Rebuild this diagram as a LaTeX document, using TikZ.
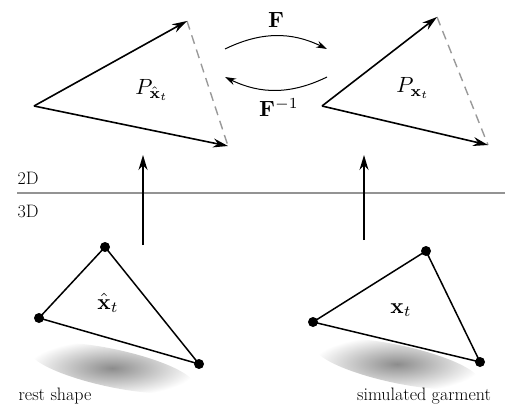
\documentclass[tikz,border=0pt]{standalone}
\usetikzlibrary{arrows.meta}
\newcommand{\mylbl}[1]{\scalebox{2.2}{$#1$}}
\begin{document}
\begin{tikzpicture}[x=1pt,y=-1pt,
  edge/.style={line width=1.6pt,-{Stealth[length=15pt,width=9pt]}},
  dashededge/.style={line width=1.4pt,gray!80,dash pattern=on 9pt off 6pt},
  tri/.style={line width=1.5pt},
  dot/.style={circle,fill=black,inner sep=0pt,minimum size=10pt},
  lbl/.style={inner sep=0pt},
  txt/.style={font=\fontsize{18}{21}\selectfont},
  bendarrow/.style={line width=1pt,-{Stealth[length=11pt,width=7pt]}}]
\useasboundingbox (0,0) rectangle (505,410);
% shadows
\shade[inner color=black!45,outer color=white,rotate around={-12:(112,368)}] (112,368) ellipse (84 and 19);
\shade[inner color=black!45,outer color=white,rotate around={-12:(397,364)}] (397,364) ellipse (84 and 19);
% 2D left
\coordinate (la) at (34,106);
\coordinate (lt) at (187,21);
\coordinate (lb) at (228,146);
\draw[dashededge] (lt) -- (lb);
\draw[edge] (la) -- (lt);
\draw[edge] (la) -- (lb);
\node[lbl] (pl) at (152,90) {\mylbl{P_{\hat{\mathbf{x}}_t}}};
% 2D right
\coordinate (ra) at (322,106);
\coordinate (rt) at (437,17);
\coordinate (rb) at (488,145);
\draw[dashededge] (rt) -- (rb);
\draw[edge] (ra) -- (rt);
\draw[edge] (ra) -- (rb);
\node[lbl] (pr) at (413,88) {\mylbl{P_{\mathbf{x}_t}}};
% F arrows
\coordinate (f1) at (225,49);
\coordinate (f2) at (327,49);
\coordinate (g1) at (327,77);
\coordinate (g2) at (225,77);
\draw[bendarrow] (f1) to[bend left=26] (f2);
\draw[bendarrow] (g1) to[bend left=26] (g2);
\node[lbl] (F) at (276,20) {\mylbl{\mathbf{F}}};
\node[lbl] (Fi) at (279,108) {\mylbl{\mathbf{F}^{-1}}};
% separator
\coordinate (s1) at (17,193);
\coordinate (s2) at (505,193);
\draw[line width=1.2pt,gray!85] (s1) -- (s2);
\node[txt] (d2) at (28,178) {2D};
\node[txt] (d3) at (28,211) {3D};
% vertical arrows
\coordinate (v1a) at (143,245);
\coordinate (v1b) at (143,155);
\coordinate (v2a) at (364,240);
\coordinate (v2b) at (364,155);
\draw[edge] (v1a) -- (v1b);
\draw[edge] (v2a) -- (v2b);
% 3D left triangle
\node[dot] (a1) at (105,247) {};
\node[dot] (a2) at (39,318) {};
\node[dot] (a3) at (199,364) {};
\draw[tri] (a1.center) -- (a2.center) -- (a3.center) -- cycle;
\node[lbl] (xh) at (108,303) {\mylbl{\hat{\mathbf{x}}_t}};
% 3D right triangle
\node[dot] (b1) at (426,251) {};
\node[dot] (b2) at (313,322) {};
\node[dot] (b3) at (480,362) {};
\draw[tri] (b1.center) -- (b2.center) -- (b3.center) -- cycle;
\node[lbl] (xt) at (401,310) {\mylbl{\mathbf{x}_t}};
% captions
\node[txt] (c1) at (55,396) {rest shape};
\node[txt] (c2) at (424,396) {simulated garment};
\end{tikzpicture}
\end{document}
